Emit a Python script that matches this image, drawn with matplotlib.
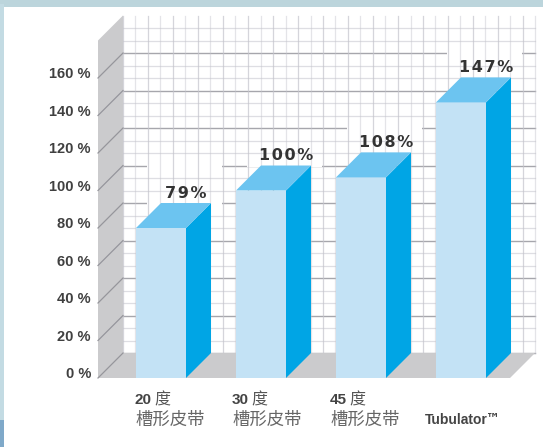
#!/usr/bin/env python
# -*- coding: utf-8 -*-

import numpy as np
import matplotlib
matplotlib.use('Agg')
import matplotlib.pyplot as plt
from matplotlib.patches import Polygon, Rectangle

plt.rcParams['font.family'] = ['Liberation Sans', 'Noto Sans CJK SC', 'DejaVu Sans']

graus = ['20', '30', '45']
nome_cat = '槽形皮带'
ultima_cat = 'Tubulator'
alturas = [80, 100, 107, 147]
rotulos = ['79%', '100%', '108%', '147%']
y_ticks = [0, 20, 40, 60, 80, 100, 120, 140, 160]

# profundidade da perspectiva
dx = 0.25
dy = 13.33
larg = 0.5
esq = -0.38
dir_ = 3.74
topo = 180

fig = plt.figure(figsize=(5.43, 4.47), dpi=100)
ax = fig.add_axes([0, 0, 1, 1])
ax.set_xlim(-1.36, 4.07)
ax.set_ylim(-36.8, 201.6)
ax.axis('off')

# faixas da moldura
ax.add_patch(Rectangle((0, 0.984), 1, 0.016, transform=ax.transAxes, color='#bcd5dc', lw=0))
ax.add_patch(Rectangle((0, 0.06), 0.008, 0.93, transform=ax.transAxes, color='#c3dbe3', lw=0))
ax.add_patch(Rectangle((0, 0), 0.008, 0.06, transform=ax.transAxes, color='#7fa9c9', lw=0))

# grade da parede do fundo
x0, x1 = esq + dx, dir_ + dx
for v in y_ticks:
    ax.plot([x0, x1], [dy + v, dy + v], color='#a6a6ac', lw=1, zorder=1)
for i, x in enumerate(np.arange(x0, x1 + 0.01, 0.125)):
    ax.plot([x, x], [dy, dy + topo], color='#c4c4cc', alpha=0.7 if i % 2 == 0 else 0.45,
            lw=0.9, zorder=1.2)
for j, v in enumerate(np.arange(0, topo + 0.1, 20 / 3)):
    if j % 3 != 0:
        ax.plot([x0, x1], [dy + v, dy + v], color='#c4c4cc', alpha=0.55, lw=0.9, zorder=1.2)

# parede esquerda e piso
ax.add_patch(Polygon([(esq, 0), (x0, dy), (x0, dy + topo), (esq, topo)], color='#cbcbcd', lw=0, zorder=2))
ax.add_patch(Polygon([(esq, 0), (x0, dy), (x1, dy), (dir_, 0)], color='#cbcbcd', lw=0, zorder=2))
for v in y_ticks:
    ax.plot([esq, x0], [v, v + dy], color='#96969c', lw=0.9, zorder=3)

# eixo y
for v in y_ticks:
    ax.text(esq - 0.07, v + 2, '%d %%' % v, ha='right', va='center',
            fontsize=10.5, fontweight='bold', color='#404040', zorder=6)

# área branca atrás dos rótulos (só corta as linhas principais)
folgas = [22, 15, 15, 15]
for i, h in enumerate(alturas):
    ax.add_patch(Rectangle((i + 0.11, h + dy - 1), 0.75, folgas[i] + 1,
                           color='white', lw=0, zorder=1.1))

# barras
for i, h in enumerate(alturas):
    xe, xd = i, i + larg
    ax.add_patch(Rectangle((xe, 0), larg, h, color='#c3e2f5', lw=0, zorder=4))
    ax.add_patch(Polygon([(xd, 0), (xd + dx, dy), (xd + dx, h + dy), (xd, h)],
                         color='#00a5e5', lw=0, zorder=4))
    ax.add_patch(Polygon([(xe, h), (xd, h), (xd + dx, h + dy), (xe + dx, h + dy)],
                         color='#6cc4f0', lw=0, zorder=4))
    ax.text(i + 0.5, h + dy + 5.3, '\u200a'.join(rotulos[i]), ha='center', va='center',
            family='DejaVu Sans', fontsize=11.5, fontweight='bold', color='#333333', zorder=6)

# categorias
pos_x = [-0.01, -0.04, -0.06]
for i, g in enumerate(graus):
    ax.text(i + pos_x[i], -11.5, g, ha='left', va='center', fontsize=11,
            fontweight='bold', color='#444444')
    ax.text(i + pos_x[i] + 0.19, -11.5, '度', ha='left', va='center', fontsize=11.5,
            family='Noto Sans CJK SC', color='#555555')
    ax.text(i + pos_x[i], -22.5, nome_cat, ha='left', va='center', fontsize=12.5,
            family='Noto Sans CJK SC', color='#666666')
ax.text(3 - 0.11, -22.5, ultima_cat, ha='left', va='center', fontsize=10,
        fontweight='bold', color='#444444')
ax.text(3 + 0.505, -21.5, '™', ha='left', va='center', fontsize=10,
        family='DejaVu Sans', fontweight='bold', color='#444444')

fig.savefig('out.png', dpi=100)
